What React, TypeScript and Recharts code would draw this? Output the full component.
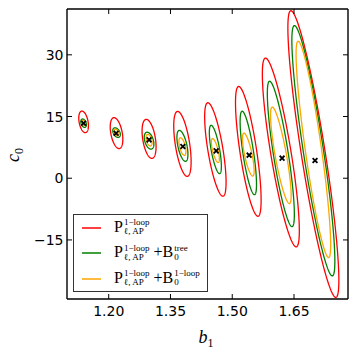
import React from 'react';
import { ScatterChart, Scatter, XAxis, YAxis, Legend } from 'recharts';

// ---- data ----
const b1Centers = [1.139, 1.219, 1.298, 1.379, 1.459, 1.539, 1.618, 1.697];
const b1Fiducial = [1.139, 1.218, 1.298, 1.38, 1.461, 1.541, 1.621, 1.701];
const c0Fiducial = [13.38, 10.95, 9.33, 7.7, 6.65, 5.61, 4.88, 4.3];
const correlation = [-0.35, -0.4, -0.4, -0.55, -0.7, -0.75, -0.83, -0.88];

// P_loop only (red)
const redC0 = [13.7, 10.97, 9.57, 8.35, 6.99, 6.53, 6.26, 5.88];
const redSigmaB1 = [0.0117, 0.0153, 0.017, 0.0211, 0.026, 0.0311, 0.0449, 0.0619];
const redSigmaC0 = [2.62, 3.76, 4.74, 7.89, 11.36, 15.78, 22.95, 34.85];
// + B0 tree (green)
const greenC0 = [13.38, 11.09, 9.13, 7.87, 6.99, 6.14, 5.9, 6.68];
const greenSigmaB1 = [0.0068, 0.0092, 0.0117, 0.0134, 0.0146, 0.0199, 0.0328, 0.0522];
const greenSigmaC0 = [1.02, 1.17, 2.06, 3.76, 5.88, 10.15, 17.68, 30.43];
// + B0 1-loop (orange)
const orangeC0 = [13.45, 11.12, 9.25, 7.7, 6.73, 5.75, 5.56, 7.0];
const orangeSigmaB1 = [0.0044, 0.0061, 0.0073, 0.0085, 0.0097, 0.0141, 0.025, 0.042];
const orangeSigmaC0 = [0.61, 0.78, 1.41, 2.14, 2.91, 5.22, 11.73, 26.3];

const xTicks = [1.2, 1.35, 1.5, 1.65];
const yTicks = [-15, 0, 15, 30];
const xDomain: [number, number] = [1.0987, 1.7811];
const yDomain: [number, number] = [-29.36, 41.14];

const levelColors = ['#ff0000', '#008000', '#ffa500'];
const legendExtras: (string | null)[] = [null, 'tree', '1\u2212loop'];

// ---- geometry helpers ----
const ellipsePoints = (bx: number, cy: number, sx: number, sy: number, rho: number) => {
  const pts: { x: number; y: number }[] = [];
  const k = Math.sqrt(1 - rho * rho);
  const n = 180;
  for (let i = 0; i <= n; i++) {
    const t = (i / n) * 2 * Math.PI;
    pts.push({ x: bx + sx * Math.cos(t), y: cy + sy * (rho * Math.cos(t) + k * Math.sin(t)) });
  }
  return pts;
};

const levels = [
  { c0: redC0, sx: redSigmaB1, sy: redSigmaC0, color: levelColors[0] },
  { c0: greenC0, sx: greenSigmaB1, sy: greenSigmaC0, color: levelColors[1] },
  { c0: orangeC0, sx: orangeSigmaB1, sy: orangeSigmaC0, color: levelColors[2] },
];

const markers = b1Fiducial.map((b, i) => ({ x: b, y: c0Fiducial[i] }));

const PLOT_LEFT = 67;
const PLOT_TOP = 9;
const PLOT_RIGHT = 348;
const PLOT_BOTTOM = 299;
const TICK = 5;
const tickFont = { fontFamily: 'DejaVu Sans', fontSize: 14, fill: '#000' };

const fmtX = (v: number) => v.toFixed(2);
const fmtY = (v: number) => (v < 0 ? '\u2212' + Math.abs(v) : String(v));

const BottomTick = (p: any) => (
  <g>
    <line x1={p.x} y1={p.y} x2={p.x} y2={p.y - TICK} stroke="#000" strokeWidth={1} />
    <text x={p.x} y={p.y + 16.5} textAnchor="middle" {...tickFont}>{fmtX(p.payload.value)}</text>
  </g>
);
const TopTick = (p: any) => (
  <line x1={p.x} y1={p.y} x2={p.x} y2={p.y + TICK} stroke="#000" strokeWidth={1} />
);
const LeftTick = (p: any) => (
  <g>
    <line x1={p.x} y1={p.y} x2={p.x + TICK} y2={p.y} stroke="#000" strokeWidth={1} />
    <text x={p.x - 3.5} y={p.y + 5} textAnchor="end" {...tickFont}>{fmtY(p.payload.value)}</text>
  </g>
);
const RightTick = (p: any) => (
  <line x1={p.x} y1={p.y} x2={p.x - TICK} y2={p.y} stroke="#000" strokeWidth={1} />
);

const XLabel = () => (
  <text x={206} y={343} textAnchor="middle" fontFamily="Liberation Serif" fontSize={18} fill="#000">
    <tspan fontStyle="italic">b</tspan>
    <tspan fontSize={12} dy={4}>1</tspan>
  </text>
);
const YLabel = () => (
  <text x={19} y={155} transform="rotate(-90, 19, 155)" textAnchor="middle" fontFamily="Liberation Serif" fontSize={18} fill="#000">
    <tspan fontStyle="italic">c</tspan>
    <tspan fontSize={12} dy={4}>0</tspan>
  </text>
);

const Cross = (p: any) => {
  const { cx, cy } = p;
  const r = 2.4;
  return (
    <g>
      <line x1={cx - r} y1={cy - r} x2={cx + r} y2={cy + r} stroke="#000" strokeWidth={1.8} />
      <line x1={cx - r} y1={cy + r} x2={cx + r} y2={cy - r} stroke="#000" strokeWidth={1.8} />
    </g>
  );
};

const Scripts = ({ sup, sub }: { sup: string; sub: string }) => (
  <span
    style={{
      display: 'inline-flex',
      flexDirection: 'column',
      fontSize: 9,
      lineHeight: '9px',
      verticalAlign: 'middle',
      marginLeft: 1,
      position: 'relative',
      top: -1,
    }}
  >
    <span>{sup}</span>
    <span>{sub}</span>
  </span>
);

const rowHeights = [25, 26, 25];

const LegendBox = () => (
  <div
    style={{
      width: 133,
      height: 76,
      border: '1.5px solid #333',
      background: '#fff',
      fontFamily: 'Liberation Serif, DejaVu Serif, serif',
      color: '#000',
    }}
  >
    {levelColors.map((c, i) => (
      <div key={i} style={{ height: rowHeights[i], display: 'flex', alignItems: 'center' }}>
        <svg width={19} height={4} style={{ marginLeft: 8, marginRight: 13, display: 'block' }}>
          <line x1={0} y1={2} x2={19} y2={2} stroke={c} strokeWidth={1.5} />
        </svg>
        <span style={{ fontSize: 16, whiteSpace: 'nowrap', lineHeight: '18px' }}>
          P
          <Scripts sup={'1\u2212loop'} sub={'\u2113, AP'} />
          {legendExtras[i] !== null && (
            <>
              <span style={{ marginLeft: 4 }}>+B</span>
              <Scripts sup={legendExtras[i] as string} sub="0" />
            </>
          )}
        </span>
      </div>
    ))}
  </div>
);

const axisStyle = { stroke: '#000', strokeWidth: 1.4 };

export default function App() {
  return (
    <div style={{ position: 'absolute', left: 0, top: 0, width: 357, height: 357, background: '#fff' }}>
      <ScatterChart width={357} height={357} margin={{ top: 0, right: 0, bottom: 0, left: 0 }}>
        <XAxis
          xAxisId="b"
          type="number"
          dataKey="x"
          orientation="bottom"
          domain={xDomain}
          ticks={xTicks}
          interval={0}
          allowDataOverflow
          height={357 - PLOT_BOTTOM}
          tickSize={0}
          tickMargin={0}
          tickLine={false}
          axisLine={axisStyle}
          tick={(p: any) => <BottomTick {...p} />}
          label={{ content: () => <XLabel /> }}
        />
        <XAxis
          xAxisId="t"
          type="number"
          dataKey="x"
          orientation="top"
          domain={xDomain}
          ticks={xTicks}
          interval={0}
          allowDataOverflow
          height={PLOT_TOP}
          tickSize={0}
          tickMargin={0}
          tickLine={false}
          axisLine={axisStyle}
          tick={(p: any) => <TopTick {...p} />}
        />
        <YAxis
          yAxisId="l"
          type="number"
          dataKey="y"
          orientation="left"
          domain={yDomain}
          ticks={yTicks}
          interval={0}
          allowDataOverflow
          width={PLOT_LEFT}
          tickSize={0}
          tickMargin={0}
          tickLine={false}
          axisLine={axisStyle}
          tick={(p: any) => <LeftTick {...p} />}
          label={{ content: () => <YLabel /> }}
        />
        <YAxis
          yAxisId="r"
          type="number"
          dataKey="y"
          orientation="right"
          domain={yDomain}
          ticks={yTicks}
          interval={0}
          allowDataOverflow
          width={357 - PLOT_RIGHT}
          tickSize={0}
          tickMargin={0}
          tickLine={false}
          axisLine={axisStyle}
          tick={(p: any) => <RightTick {...p} />}
        />
        {b1Centers.map((b, i) =>
          levels.map((lv, j) => (
            <Scatter
              key={`e-${i}-${j}`}
              xAxisId="b"
              yAxisId="l"
              data={ellipsePoints(b, lv.c0[i], lv.sx[i], lv.sy[i], correlation[i])}
              fill={lv.color}
              line={{ stroke: lv.color, strokeWidth: 1.3 }}
              shape={() => <g />}
              legendType="none"
              isAnimationActive={false}
            />
          ))
        )}
        <Scatter
          xAxisId="b"
          yAxisId="l"
          data={markers}
          fill="#000"
          shape={(p: any) => <Cross {...p} />}
          legendType="none"
          isAnimationActive={false}
        />
        <Legend
          layout="vertical"
          align="center"
          verticalAlign="middle"
          content={() => <LegendBox />}
          wrapperStyle={{ position: 'absolute', left: 73, top: 214, width: 136, height: 79 }}
        />
      </ScatterChart>
    </div>
  );
}
